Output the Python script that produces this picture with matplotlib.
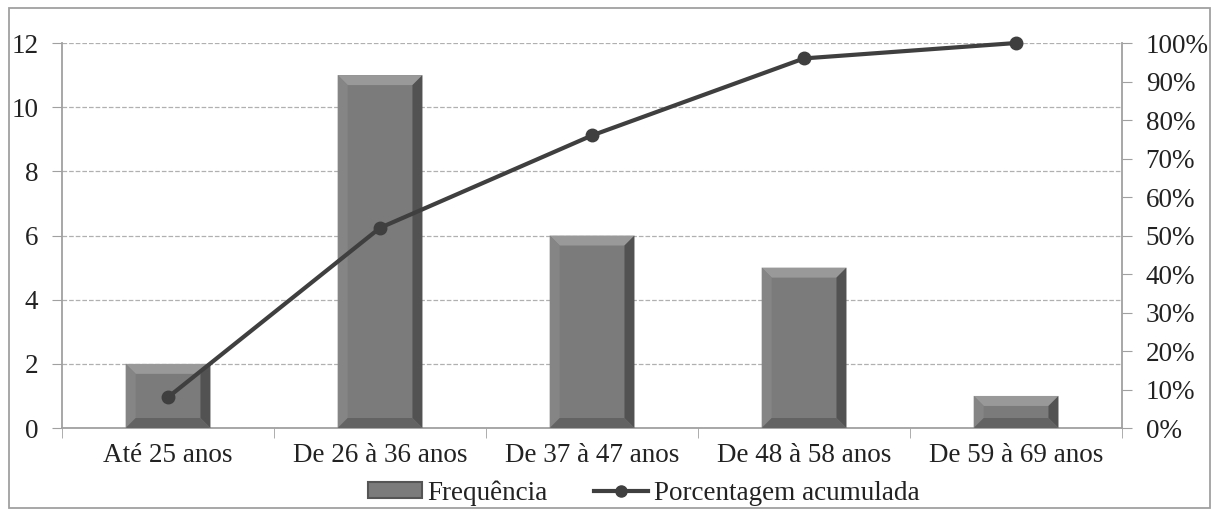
import numpy as np
import matplotlib.pyplot as plt
from matplotlib.patches import Rectangle, Polygon
from matplotlib.lines import Line2D
from matplotlib.ticker import PercentFormatter

plt.rcParams['font.family'] = ['Liberation Serif', 'DejaVu Serif']

# dados
faixas = ['Até 25 anos', 'De 26 à 36 anos', 'De 37 à 47 anos', 'De 48 à 58 anos', 'De 59 à 69 anos']
frequencia = [2, 11, 6, 5, 1]
acumulada = [0.08, 0.52, 0.76, 0.96, 1.00]

fig = plt.figure(figsize=(12.19, 5.12), dpi=100)
ax = fig.add_axes([0.0509, 0.164, 0.8696, 0.752])
ax2 = ax.twinx()

ax.set_xlim(-0.5, len(faixas) - 0.5)
ax.set_ylim(0, 12)
ax2.set_ylim(0, 1.0)

x = np.arange(len(faixas))
largura = 0.40
bars = ax.bar(x, frequencia, width=largura, color='#7b7b7b', edgecolor='none', zorder=2)

# efeito chanfrado (bevel) com ~10 px
fig.canvas.draw()
bb = ax.get_window_extent()
bx = 10 * (ax.get_xlim()[1] - ax.get_xlim()[0]) / bb.width
by = 10 * (ax.get_ylim()[1] - ax.get_ylim()[0]) / bb.height
for b in bars:
    x0, y0 = b.get_x(), b.get_y()
    x1, y1 = x0 + b.get_width(), y0 + b.get_height()
    d = min(by, (y1 - y0) / 2.8)
    ix0, ix1, iy0, iy1 = x0 + bx, x1 - bx, y0 + d, y1 - d
    faces = [([(x0, y1), (x1, y1), (ix1, iy1), (ix0, iy1)], '#999999'),
             ([(x0, y0), (x0, y1), (ix0, iy1), (ix0, iy0)], '#858585'),
             ([(x1, y0), (x1, y1), (ix1, iy1), (ix1, iy0)], '#525252'),
             ([(x0, y0), (x1, y0), (ix1, iy0), (ix0, iy0)], '#636363')]
    for pts, c in faces:
        ax.add_patch(Polygon(pts, closed=True, facecolor=c, edgecolor='none', zorder=3))

ax2.plot(x, acumulada, color='#3f3f3f', lw=3, marker='o', ms=9, zorder=4, clip_on=False)

ax.set_yticks(range(0, 13, 2))
ax2.set_yticks(np.arange(0, 1.01, 0.1))
ax2.yaxis.set_major_formatter(PercentFormatter(1.0, decimals=0))

ax.set_xticks(x)
ax.set_xticklabels(faixas)
ax.set_xticks(np.arange(-0.5, len(faixas)), minor=True)
ax.tick_params(axis='x', which='major', length=0, pad=11, labelsize=19.5, labelcolor='#222222')
ax.tick_params(axis='x', which='minor', length=7, color='#a0a0a0', direction='out')
ax.tick_params(axis='y', length=7, color='#a0a0a0', labelsize=19.5, pad=10, labelcolor='#222222')
ax2.tick_params(axis='y', length=7, color='#a0a0a0', labelsize=19.5, pad=10, labelcolor='#222222')

ax.yaxis.grid(True, ls='--', color='#b0b0b0', lw=0.9)
ax.set_axisbelow(True)
for a in (ax, ax2):
    a.spines['top'].set_visible(False)
    for s in ('left', 'right', 'bottom'):
        a.spines[s].set_color('#a0a0a0')
        a.spines[s].set_linewidth(1.3)
ax.spines['right'].set_visible(False)
ax2.spines['left'].set_visible(False)
ax2.spines['bottom'].set_visible(False)

handles = [Rectangle((0, 0), 1, 1, facecolor='#7b7b7b', edgecolor='#555555', lw=1.5),
           Line2D([], [], color='#3f3f3f', lw=3, marker='o', ms=8)]
fig.legend(handles, ['Frequência', 'Porcentagem acumulada'], loc='center',
           bbox_to_anchor=(0.528, 0.037), ncol=2, frameon=False, fontsize=19.5,
           handlelength=2.0, handleheight=0.5, handletextpad=0.2, columnspacing=1.7,
           labelcolor='#222222')

fig.add_artist(Rectangle((0.0074, 0.0078), 0.9852, 0.9766, transform=fig.transFigure,
                         fill=False, edgecolor='#a0a0a0', lw=1.3))

fig.savefig('out.png', dpi=100)
